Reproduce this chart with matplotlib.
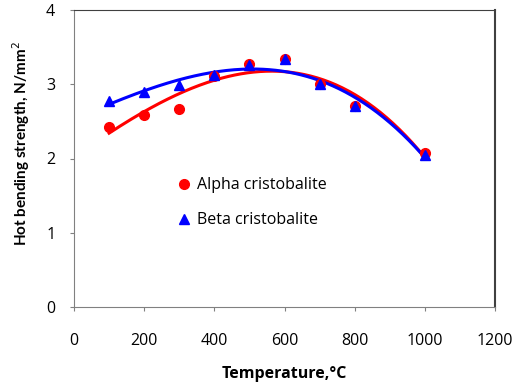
import numpy as np
import matplotlib
matplotlib.use("Agg")
import matplotlib.pyplot as plt

plt.rcParams['font.family'] = ['Open Sans', 'DejaVu Sans']

temps = [100, 200, 300, 400, 500, 600, 700, 800, 1000]
alpha = [2.42, 2.59, 2.67, 3.11, 3.27, 3.34, 3.00, 2.71, 2.07]
beta = [2.77, 2.89, 2.99, 3.12, 3.26, 3.34, 3.00, 2.71, 2.05]

fig = plt.figure(figsize=(5.15, 3.87), dpi=100)
ax = fig.add_axes([74 / 515, 1 - 307 / 387, 421 / 515, 297 / 387])

# trend lines (polynomial fit, like Excel)
xs = np.linspace(100, 1000, 200)
p_a = np.polyfit(temps, alpha, 3)
p_b = np.polyfit(temps, beta, 3)
ax.plot(xs, np.polyval(p_a, xs), color='#ff0000', lw=2.2)
ax.plot(xs, np.polyval(p_b, xs), color='#0000ff', lw=2.2)

ax.plot(temps, alpha, 'o', color='#ff0000', ms=7, label='Alpha cristobalite')
ax.plot(temps, beta, '^', color='#0000ff', ms=6.5, label='Beta cristobalite')

ax.set_xlim(0, 1200)
ax.set_ylim(0, 4)
ax.set_xticks(range(0, 1201, 200))
ax.set_yticks(range(0, 5))
ax.tick_params(direction='out', length=3, color='#808080', labelsize=11.5)
ax.tick_params(axis='x', pad=16)
ax.tick_params(axis='y', pad=10.5)
for s in ax.spines.values():
    s.set_color('#808080')
ax.spines['top'].set_color('#404040')
ax.spines['right'].set_color('#404040')
ax.spines['right'].set_linewidth(1.5)

ax.set_xlabel('Temperature,°C', fontweight='bold', fontsize=11.5, labelpad=12)
ax.set_ylabel('Hot bending strength, N/mm$^2$', fontweight='bold', fontsize=11,
              family=['Lato', 'DejaVu Sans'])
ax.yaxis.set_label_coords(-0.1, 0.55)

ax.legend(loc='upper left', bbox_to_anchor=(0.205, 0.485), frameon=False,
          fontsize=11.5, handletextpad=0.2, handlelength=1.2, labelspacing=1.2)

fig.savefig('out.png', dpi=100)
